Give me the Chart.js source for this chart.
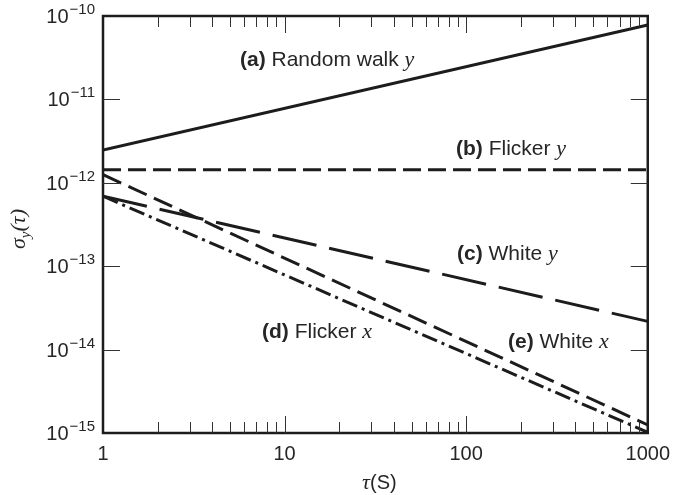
<!DOCTYPE html>
<html>
<head>
<meta charset="utf-8">
<script src="https://cdn.jsdelivr.net/npm/chart.js@4/dist/chart.umd.min.js"></script>
<style>
html,body{margin:0;padding:0;background:#fff;}
#wrap{width:679px;height:495px;position:relative;}
</style>
</head>
<body>
<div id="wrap"><canvas id="c" width="679" height="495"></canvas></div>
<script>
// ---- data ----
const tau = [1, 1000];
const randomWalkY = [2.47e-12, 7.8e-11];
const flickerY    = [1.43e-12, 1.43e-12];
const whiteY      = [6.9e-13, 2.18e-14];
const flickerX    = [6.9e-13, 1.02e-15];
const whiteX      = [1.25e-12, 1.25e-15];
const xTickLabels = ["1", "10", "100", "1000"];
const xTickValues = [1, 10, 100, 1000];
const yTickExponents = [-15, -14, -13, -12, -11, -10];
const seriesNames = ["(a) Random walk y", "(b) Flicker y", "(c) White y", "(d) Flicker x", "(e) White x"];

const INK = '#1c1c1c';
const TXT = '#262626';
const SANS = '"Liberation Sans", Arial, Helvetica, sans-serif';
const SERIF = '"Liberation Serif", "Times New Roman", serif';

function pts(vals){ return tau.map((t,i)=>({x:t, y:vals[i]})); }

function ds(label, vals, dash){
  return {label, data: pts(vals), borderColor: INK, borderWidth: 3,
    borderDash: dash, pointRadius: 0, fill: false, tension: 0, borderCapStyle:'butt'};
}

function drawRuns(ctx, x, y, runs){
  let cx = x;
  for (const r of runs){
    ctx.font = r.font;
    ctx.fillText(r.t, cx, y);
    cx += ctx.measureText(r.t).width;
  }
  return cx;
}
function runsWidth(ctx, runs){
  let w = 0;
  for (const r of runs){ ctx.font = r.font; w += ctx.measureText(r.t).width; }
  return w;
}

const annot = {
  id: 'annot',
  afterDraw(chart){
    const ctx = chart.ctx, a = chart.chartArea;
    const xs = chart.scales.x, ys = chart.scales.y;
    ctx.save();
    // frame
    ctx.strokeStyle = INK; ctx.lineWidth = 2.5;
    ctx.strokeRect(a.left, a.top, a.right - a.left, a.bottom - a.top);
    // x ticks (inward, top & bottom)
    ctx.lineWidth = 1;
    ctx.strokeStyle = '#333';
    for (let d = 1; d < 1000; d *= 10){
      for (let m = 1; m <= 10; m++){
        const v = d*m;
        if (v <= 1 || v >= 1000) continue;
        const px = Math.round(xs.getPixelForValue(v)) + 0.5;
        const len = (m === 10) ? 17 : 11;
        ctx.beginPath();
        ctx.moveTo(px, a.bottom); ctx.lineTo(px, a.bottom - len);
        ctx.moveTo(px, a.top); ctx.lineTo(px, a.top + len);
        ctx.stroke();
      }
    }
    // y ticks (inward left & right)
    for (const e of yTickExponents){
      if (e === -15 || e === -10) continue;
      const py = Math.round(ys.getPixelForValue(Math.pow(10, e))) + 0.5;
      ctx.beginPath();
      ctx.moveTo(a.left, py); ctx.lineTo(a.left + 17, py);
      ctx.moveTo(a.right, py); ctx.lineTo(a.right - 17, py);
      ctx.stroke();
    }
    // y tick labels with superscripts
    ctx.fillStyle = TXT;
    ctx.textBaseline = 'alphabetic';
    ctx.textAlign = 'left';
    for (const e of yTickExponents){
      const py = ys.getPixelForValue(Math.pow(10, e));
      const base = [{t:'10', font:'20px ' + SANS}];
      const sup = [{t:'\u2212' + String(-e), font:'15px ' + SANS}];
      const w = runsWidth(ctx, base) + 1 + runsWidth(ctx, sup);
      const x0 = a.left - 8 - w;
      const x1 = drawRuns(ctx, x0, py + 7, base);
      drawRuns(ctx, x1 + 1, py - 2, sup);
    }
    // axis titles
    const xt = [{t:'\u03C4', font:'italic 22px ' + SERIF}, {t:'(S)', font:'20px ' + SANS}];
    const xcx = (a.left + a.right)/2 + 4;
    drawRuns(ctx, xcx - runsWidth(ctx, xt)/2, 489, xt);

    ctx.save();
    ctx.translate(25, 229);
    ctx.rotate(-Math.PI/2);
    const y1 = [{t:'\u03C3', font:'italic 22px ' + SERIF}];
    const ysub = [{t:'y', font:'italic 15px ' + SERIF}];
    const y2 = [{t:'(\u03C4)', font:'italic 22px ' + SERIF}];
    const tw = runsWidth(ctx, y1) + runsWidth(ctx, ysub) + runsWidth(ctx, y2);
    let cx = -tw/2;
    cx = drawRuns(ctx, cx, 0, y1);
    cx = drawRuns(ctx, cx, 5, ysub);
    drawRuns(ctx, cx, 0, y2);
    ctx.restore();

    // series labels
    const labelPos = [
      {x:240, y:66}, {x:456, y:155}, {x:457, y:260}, {x:262, y:338}, {x:508, y:348}
    ];
    seriesNames.forEach((name, i) => {
      const m = name.match(/^(\([a-e]\))\s(.*)\s([xy])$/);
      const runs = [
        {t:m[1], font:'bold 21px ' + SANS},
        {t:' ' + m[2] + ' ', font:'21px ' + SANS},
        {t:m[3], font:'italic 22px ' + SERIF}
      ];
      drawRuns(ctx, labelPos[i].x, labelPos[i].y, runs);
    });
    ctx.restore();
  }
};

new Chart(document.getElementById('c'), {
  type: 'line',
  data: {
    datasets: [
      ds(seriesNames[0], randomWalkY, []),
      ds(seriesNames[1], flickerY, [18, 7]),
      ds(seriesNames[2], whiteY, [45, 13]),
      ds(seriesNames[3], flickerX, [16, 5, 3, 5]),
      ds(seriesNames[4], whiteX, [20, 8])
    ]
  },
  options: {
    responsive: false,
    animation: false,
    devicePixelRatio: 1,
    layout: { autoPadding: false, padding: { left: 103, right: 24, top: 16, bottom: 31 } },
    plugins: { legend: { display: false }, tooltip: { enabled: false } },
    scales: {
      x: {
        type: 'logarithmic', min: 1, max: 1000,
        grid: { display: false, drawTicks: false },
        border: { display: false },
        afterBuildTicks: (s) => { s.ticks = xTickValues.map(v => ({value: v})); },
        afterFit: (s) => { s.height = 31; },
        ticks: {
          color: TXT, padding: 9, maxRotation: 0, autoSkip: false,
          font: { family: SANS, size: 20 },
          callback: (v) => { const i = xTickValues.indexOf(v); return i >= 0 ? xTickLabels[i] : ''; }
        }
      },
      y: {
        type: 'logarithmic', min: 1e-15, max: 1e-10,
        grid: { display: false, drawTicks: false },
        border: { display: false },
        afterFit: (s) => { s.width = 0; },
        ticks: { display: false }
      }
    }
  },
  plugins: [annot]
});
</script>
</body>
</html>
